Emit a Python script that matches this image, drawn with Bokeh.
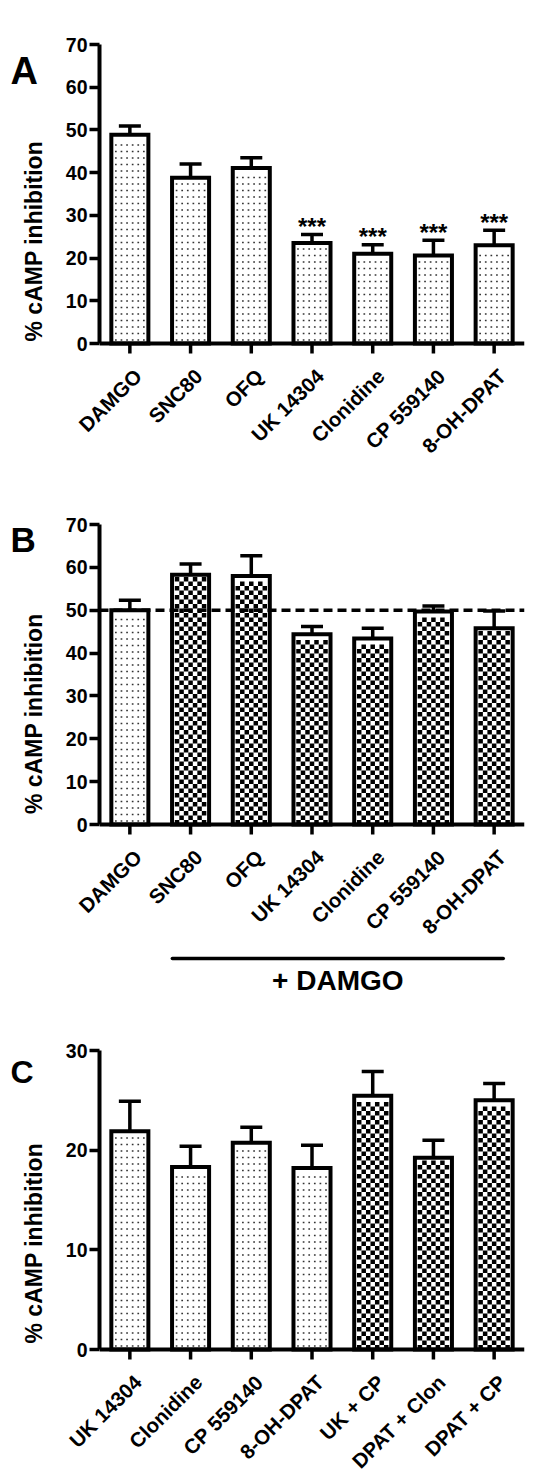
import math
from bokeh.plotting import figure
from bokeh.models import (FactorRange, Range1d, ColumnDataSource, Whisker, TeeHead,
                          Span, SingleIntervalTicker)
from bokeh.layouts import column, row
from bokeh.embed import file_html
from bokeh.resources import INLINE
from bokeh.core.properties import value

# ---------------- data ----------------
a_cats = ["DAMGO", "SNC80", "OFQ", "UK 14304", "Clonidine", "CP 559140", "8-OH-DPAT"]
a_vals = [48.9, 38.8, 41.1, 23.5, 21.0, 20.6, 23.0]
a_errs = [2.0, 3.2, 2.4, 2.0, 2.1, 3.6, 3.5]
a_stars = ["", "", "", "***", "***", "***", "***"]
a_combo = [False, False, False, False, False, False, False]

b_cats = ["DAMGO", "SNC80", "OFQ", "UK 14304", "Clonidine", "CP 559140", "8-OH-DPAT"]
b_vals = [50.0, 58.3, 58.0, 44.4, 43.4, 49.7, 45.8]
b_errs = [2.3, 2.5, 4.7, 1.8, 2.4, 1.3, 4.0]
b_combo = [False, True, True, True, True, True, True]
b_ref = 50.0
b_group_label = "+ DAMGO"

c_cats = ["UK 14304", "Clonidine", "CP 559140", "8-OH-DPAT", "UK + CP", "DPAT + Clon", "DPAT + CP"]
c_vals = [21.9, 18.3, 20.75, 18.2, 25.45, 19.25, 25.0]
c_errs = [3.0, 2.1, 1.55, 2.3, 2.45, 1.75, 1.7]
c_combo = [False, False, False, False, True, True, True]

y_title = "%  cAMP inhibition"

FONT = "Liberation Sans"
W = 550
STRIP_W = 60
P_LEFT, FRAME_W, RIGHT = 39, 425, 26
BAR_W = 0.61
BORDER = 4
TICK = 10
BELOW = 12      # frame space kept below zero for the category ticks
P_BOTTOM = 4


def blank_fig(width, height, x_range):
    f = figure(x_range=x_range, y_range=Range1d(0, height), width=width, height=height,
               frame_width=width, frame_height=height,
               min_border_left=0, min_border_right=0, min_border_top=0,
               min_border_bottom=0, x_axis_location=None, y_axis_location=None,
               output_backend="svg", toolbar_location=None)
    f.outline_line_color = None
    f.grid.visible = False
    f.background_fill_color = "white"
    return f


def texture(vals, combo, ymax, frame_h, want_combo):
    """Stipple / checker fill marks laid out inside each bar."""
    ppx = FRAME_W / len(vals)
    ppy = frame_h / ymax
    half_in = BAR_W * ppx / 2 - BORDER / 2
    xs, ys = [], []
    for i, (v, c) in enumerate(zip(vals, combo)):
        if c != want_combo:
            continue
        cx = i + 0.5
        inner_top = v * ppy - BORDER / 2
        if not want_combo:
            sx, sy = 5.6, 6.5
            ncols = int((2 * half_in - 3) // sx) + 1
            offs = [(-(ncols - 1) / 2 + k) * sx for k in range(ncols)]
            y = 3.5
            while y < inner_top - 2:
                for o in offs:
                    xs.append(cx + o / ppx)
                    ys.append(y / ppy)
                y += sy
        else:
            cs = 4.5
            ncols = int((2 * half_in) // cs)
            left = -ncols * cs / 2
            nrows = int(inner_top // cs)
            for j in range(nrows):
                for k in range(ncols):
                    if (j + k) % 2 == 0:
                        xs.append(cx + (left + (k + 0.5) * cs) / ppx)
                        ys.append((j + 0.5) * cs / ppy)
    return xs, ys


def make_panel(cats, vals, errs, combo, ymax, top, frame_h, letter, letter_size,
               letter_mid, strip_h, stars=None, ref=None, group=None):
    n = len(cats)
    ppx = FRAME_W / n
    ppy = frame_h / ymax
    H = top + frame_h + BELOW + P_BOTTOM
    p = figure(x_range=FactorRange(factors=cats),
               y_range=Range1d(-BELOW / ppy, ymax),
               width=W - STRIP_W, height=H, frame_width=FRAME_W,
               frame_height=frame_h + BELOW,
               min_border_left=P_LEFT, min_border_right=RIGHT,
               min_border_top=top, min_border_bottom=P_BOTTOM,
               x_axis_location=None,
               output_backend="svg", toolbar_location=None)
    p.outline_line_color = None
    p.grid.visible = False
    p.background_fill_color = "white"

    src = ColumnDataSource(dict(cat=cats, val=vals))
    p.vbar(x="cat", top="val", width=BAR_W, source=src,
           fill_color="white", line_color="black", line_width=BORDER,
           line_join="miter")

    dx, dy = texture(vals, combo, ymax, frame_h, False)
    if dx:
        p.scatter(dx, dy, marker="square", size=1.7, fill_color="#333333",
                  line_color=None)
    cx, cy = texture(vals, combo, ymax, frame_h, True)
    if cx:
        p.scatter(cx, cy, marker="square", size=4.5, fill_color="black",
                  line_color=None)

    # category axis: baseline and ticks
    centers = [i + 0.5 for i in range(n)]
    p.segment(x0=[0], y0=[0], x1=[n], y1=[0], line_color="black", line_width=4)
    p.segment(x0=centers, y0=[0] * n, x1=centers, y1=[-TICK / ppy] * n,
              line_color="black", line_width=3.5)

    upper = [v + e for v, e in zip(vals, errs)]
    wsrc = ColumnDataSource(dict(cat=cats, val=vals, upper=upper))
    p.add_layout(Whisker(base="cat", lower="val", upper="upper", source=wsrc,
                         dimension="height", line_width=3.5, line_color="black",
                         upper_head=TeeHead(size=22, line_width=3.5, line_color="black"),
                         lower_head=None))

    if stars is not None:
        ssrc = ColumnDataSource(dict(cat=cats, y=upper, s=stars))
        p.text(x="cat", y="y", text="s", source=ssrc, text_align="center",
               text_baseline="middle", y_offset=-8,
               text_font=value(FONT), text_font_style="bold",
               text_font_size="24px", text_color="black")

    if ref is not None:
        p.add_layout(Span(location=ref, dimension="width", line_color="black",
                          line_width=3.5, line_dash="9 5"))

    ax = p.yaxis[0]
    ax.ticker = SingleIntervalTicker(interval=10)
    ax.bounds = (0, ymax)
    ax.axis_line_width = 4
    ax.axis_line_color = "black"
    ax.major_tick_line_width = 3.5
    ax.major_tick_line_color = "black"
    ax.major_tick_out = 10
    ax.major_tick_in = 0
    ax.minor_tick_line_color = None
    ax.major_label_text_font = FONT
    ax.major_label_text_font_style = "bold"
    ax.major_label_text_color = "black"
    ax.major_label_text_font_size = "19.5px"
    ax.major_label_standoff = 2

    # left strip: panel letter + y-axis title
    lf = blank_fig(STRIP_W, H, Range1d(0, STRIP_W))
    lf.text(x=[10], y=[H - letter_mid], text=[letter], text_align="left",
            text_baseline="middle", text_font=value(FONT),
            text_font_style="bold", text_font_size=letter_size, text_color="black")
    lf.text(x=[33.5], y=[H - (top + frame_h / 2)], text=[y_title], angle=math.pi / 2,
            text_align="center", text_baseline="middle", text_font=value(FONT),
            text_font_style="bold", text_font_size="23px", text_color="black")

    # bottom strip: rotated category labels (and optional group bracket)
    left_units = (STRIP_W + P_LEFT) / ppx
    sf = blank_fig(W, strip_h, Range1d(-left_units, W / ppx - left_units))
    sf.text(x=centers, y=[strip_h - 13] * n, text=cats, angle=math.pi / 4,
            x_offset=8, text_align="right", text_baseline="middle",
            text_font=value(FONT), text_font_style="bold", text_font_size="20.5px",
            text_color="black")
    if group is not None:
        first = combo.index(True)
        last = n - 1 - combo[::-1].index(True)
        x0 = first + 0.5 - 0.3
        x1 = last + 0.5 + 0.15
        sf.segment(x0=[x0], y0=[52], x1=[x1], y1=[52], line_color="black",
                   line_width=3.5, line_cap="round")
        sf.text(x=[(x0 + x1) / 2], y=[30], text=[group], text_align="center",
                text_baseline="middle", text_font=value(FONT),
                text_font_style="bold", text_font_size="28px", text_color="black")

    return column(row(lf, p, spacing=0), sf, spacing=0)


pa = make_panel(a_cats, a_vals, a_errs, a_combo, 70, 44, 299, "A", "38px", 26.5, 129,
                stars=a_stars)
pb = make_panel(b_cats, b_vals, b_errs, b_combo, 70, 36, 300, "B", "35px", 15, 170,
                ref=b_ref, group=b_group_label)
pc = make_panel(c_cats, c_vals, c_errs, c_combo, 30, 40, 299, "C", "32px", 21, 109)

layout = column(pa, pb, pc, spacing=0)
open("out.html", "w").write(file_html(layout, INLINE))
